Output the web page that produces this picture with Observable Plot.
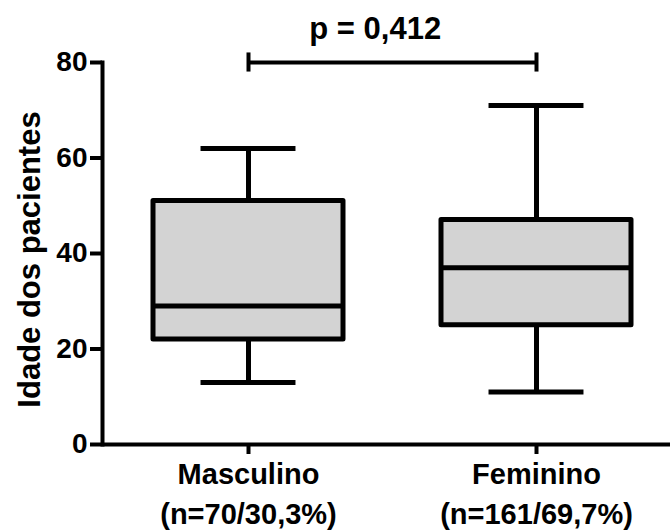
<!DOCTYPE html>
<html>
<head>
<meta charset="utf-8">
<script src="https://cdn.jsdelivr.net/npm/d3@7"></script>
<script src="https://cdn.jsdelivr.net/npm/@observablehq/plot@0.6"></script>
<style>
  html, body { margin: 0; padding: 0; background: #fff; }
  svg { font-family: "Liberation Sans", Arial, sans-serif; font-weight: bold; }
</style>
</head>
<body>
<div id="chart"></div>
<script>
// Data
const categories = ["Masculino", "Feminino"];
const nLabels = ["(n=70/30,3%)", "(n=161/69,7%)"];
const minimum = [13, 11];
const q1 = [22, 25];
const median = [29, 37];
const q3 = [51, 47];
const maximum = [62, 71];
const yTicks = [0, 20, 40, 60, 80];
const pLabel = "p = 0,412";
const yLabel = "Idade dos pacientes";

const stats = categories.map((c, i) => ({
  cat: c, n: nLabels[i], min: minimum[i], q1: q1[i], med: median[i], q3: q3[i], max: maximum[i]
}));
const nByCat = Object.fromEntries(categories.map((c, i) => [c, nLabels[i]]));

const step = 288;
const bw = step * 0.66;

const chart = Plot.plot({
  width: 670,
  height: 532,
  marginLeft: 102,
  marginRight: 0,
  marginTop: 62,
  marginBottom: 88,
  style: {fontFamily: "Liberation Sans, Arial, sans-serif", fontWeight: "bold", background: "#fff", overflow: "visible"},
  x: {type: "band", domain: categories, range: [104, 680], paddingInner: 0.34, paddingOuter: 0.17},
  y: {domain: [0, 80]},
  marks: [
    // whiskers
    Plot.ruleX(stats, {x: "cat", y1: "min", y2: "q1", stroke: "black", strokeWidth: 5}),
    Plot.ruleX(stats, {x: "cat", y1: "q3", y2: "max", stroke: "black", strokeWidth: 5}),
    // caps
    Plot.tickY(stats, {x: "cat", y: "min", stroke: "black", strokeWidth: 5, insetLeft: bw / 4, insetRight: bw / 4}),
    Plot.tickY(stats, {x: "cat", y: "max", stroke: "black", strokeWidth: 5, insetLeft: bw / 4, insetRight: bw / 4}),
    // boxes
    Plot.barY(stats, {x: "cat", y1: "q1", y2: "q3", fill: "#d3d3d3", stroke: "black", strokeWidth: 5, strokeLinejoin: "round"}),
    Plot.tickY(stats, {x: "cat", y: "med", stroke: "black", strokeWidth: 5}),
    // axes
    Plot.axisY({ticks: yTicks, tickSize: 12, tickPadding: 3, strokeWidth: 4, fontSize: 28, fontWeight: "bold", fill: "black", label: null}),
    Plot.text([yLabel], {frameAnchor: "left", rotate: -90, dx: -72, dy: 6, text: d => d, fontSize: 31, fontWeight: "bold", fill: "black", textAnchor: "middle", lineAnchor: "middle"}),
    Plot.axisX({tickSize: 10, tickPadding: 1, strokeWidth: 4, fontSize: 29, fontWeight: "bold", fill: "black",
      lineHeight: 1.38, tickFormat: d => d + "\n" + nByCat[d], label: null}),
    Plot.frame({anchor: "left", stroke: "black", strokeWidth: 4}),
    Plot.ruleY([0], {stroke: "black", strokeWidth: 4}),
    // significance bracket
    Plot.link([{a: categories[0], b: categories[1]}], {x1: "a", x2: "b", y1: 80, y2: 80, stroke: "black", strokeWidth: 4}),
    Plot.ruleX(categories, {x: d => d, y1: 78, y2: 82, stroke: "black", strokeWidth: 4}),
    Plot.text([pLabel], {x: () => categories[0], y: 85, text: d => d, dx: step * 0.44, lineAnchor: "bottom", fontSize: 31, fontWeight: "bold", fill: "black"})
  ]
});
document.getElementById("chart").appendChild(chart);
</script>
</body>
</html>
